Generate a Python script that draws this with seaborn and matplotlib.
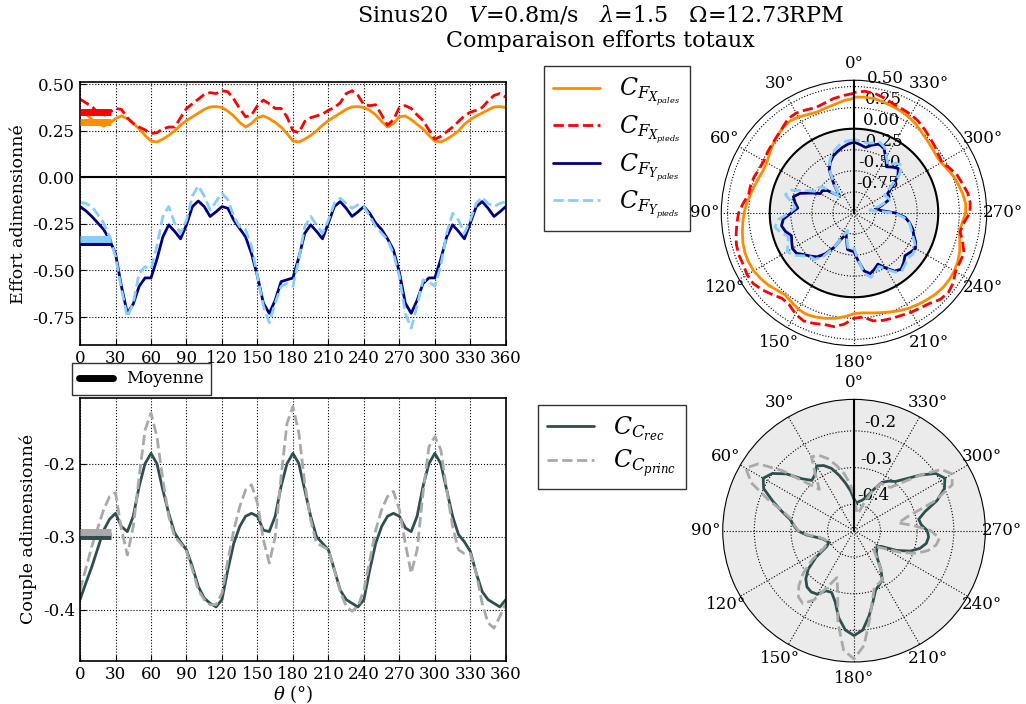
import numpy as np
import pandas as pd
import seaborn as sns
import matplotlib
matplotlib.use("Agg")
import matplotlib.pyplot as plt
from matplotlib.lines import Line2D
from matplotlib.ticker import FormatStrFormatter

# angles (deg), one value every 5 degrees
theta_deg = np.arange(0, 361, 5)

cfx_pales = [0.36, 0.34, 0.31, 0.29, 0.275, 0.29, 0.315, 0.33, 0.315, 0.29, 0.26, 0.225, 0.195,
             0.19, 0.205, 0.225, 0.25, 0.28, 0.305, 0.325, 0.345, 0.365, 0.378, 0.38, 0.375,
             0.355, 0.33, 0.295, 0.27, 0.29, 0.32, 0.33, 0.315, 0.295, 0.27, 0.235, 0.195,
             0.19, 0.205, 0.225, 0.25, 0.28, 0.305, 0.325, 0.345, 0.365, 0.378, 0.38, 0.375,
             0.36, 0.335, 0.30, 0.27, 0.29, 0.325, 0.33, 0.31, 0.285, 0.26, 0.225, 0.195,
             0.19, 0.205, 0.225, 0.25, 0.285, 0.31, 0.33, 0.345, 0.362, 0.378, 0.38, 0.375]
cfx_pieds = [0.42, 0.40, 0.38, 0.35, 0.33, 0.35, 0.37, 0.365, 0.32, 0.29, 0.27, 0.255, 0.235,
             0.24, 0.26, 0.27, 0.27, 0.32, 0.37, 0.395, 0.42, 0.445, 0.455, 0.45, 0.465,
             0.46, 0.42, 0.37, 0.325, 0.335, 0.385, 0.415, 0.395, 0.37, 0.37, 0.325, 0.25,
             0.24, 0.30, 0.32, 0.33, 0.34, 0.36, 0.375, 0.40, 0.45, 0.465, 0.44, 0.39,
             0.385, 0.39, 0.335, 0.28, 0.31, 0.375, 0.385, 0.37, 0.335, 0.305, 0.255, 0.205,
             0.22, 0.245, 0.27, 0.30, 0.33, 0.35, 0.36, 0.375, 0.41, 0.44, 0.45, 0.43]
cfy_pales = [-0.157, -0.18, -0.21, -0.245, -0.28, -0.335, -0.41, -0.585, -0.73, -0.68, -0.585,
             -0.54, -0.54, -0.44, -0.32, -0.255, -0.29, -0.33, -0.255, -0.157, -0.127, -0.157,
             -0.21, -0.185, -0.157, -0.166, -0.23, -0.275, -0.32, -0.41, -0.53, -0.675, -0.73,
             -0.66, -0.56, -0.55, -0.54, -0.43, -0.30, -0.255, -0.29, -0.33, -0.245, -0.157,
             -0.13, -0.166, -0.21, -0.185, -0.157, -0.193, -0.246, -0.28, -0.33, -0.39, -0.51,
             -0.675, -0.73, -0.66, -0.57, -0.54, -0.54, -0.44, -0.32, -0.255, -0.29, -0.33,
             -0.245, -0.157, -0.13, -0.166, -0.21, -0.185, -0.157]
cfy_pieds = [-0.135, -0.14, -0.157, -0.2, -0.246, -0.32, -0.425, -0.60, -0.75, -0.675, -0.515,
             -0.48, -0.49, -0.37, -0.21, -0.157, -0.246, -0.30, -0.23, -0.10, -0.046, -0.10,
             -0.175, -0.13, -0.086, -0.12, -0.21, -0.265, -0.28, -0.37, -0.53, -0.69, -0.78,
             -0.675, -0.585, -0.57, -0.585, -0.44, -0.265, -0.21, -0.255, -0.30, -0.23, -0.14,
             -0.112, -0.14, -0.166, -0.148, -0.157, -0.21, -0.265, -0.30, -0.335, -0.41, -0.53,
             -0.73, -0.81, -0.69, -0.55, -0.56, -0.585, -0.475, -0.30, -0.193, -0.23, -0.30,
             -0.23, -0.14, -0.107, -0.14, -0.157, -0.14, -0.13]

cc_rec = [-0.386, -0.363, -0.341, -0.316, -0.291, -0.276, -0.268, -0.286, -0.293, -0.272, -0.231,
          -0.20, -0.186, -0.20, -0.236, -0.268, -0.295, -0.307, -0.318, -0.341, -0.368, -0.384,
          -0.391, -0.396, -0.386, -0.345, -0.309, -0.286, -0.272, -0.268, -0.272, -0.291, -0.293,
          -0.272, -0.231, -0.20, -0.186, -0.20, -0.236, -0.272, -0.30, -0.309, -0.318, -0.345,
          -0.373, -0.386, -0.391, -0.396, -0.386, -0.345, -0.309, -0.286, -0.272, -0.268, -0.272,
          -0.288, -0.293, -0.272, -0.231, -0.20, -0.186, -0.20, -0.236, -0.272, -0.297, -0.307,
          -0.32, -0.35, -0.375, -0.386, -0.391, -0.396, -0.386]
cc_princ = [-0.373, -0.343, -0.313, -0.288, -0.263, -0.245, -0.24, -0.29, -0.325, -0.286, -0.218,
            -0.154, -0.131, -0.163, -0.222, -0.272, -0.30, -0.309, -0.32, -0.345, -0.373, -0.386,
            -0.393, -0.393, -0.377, -0.332, -0.291, -0.259, -0.236, -0.229, -0.254, -0.304, -0.336,
            -0.30, -0.218, -0.145, -0.122, -0.158, -0.227, -0.277, -0.309, -0.313, -0.318, -0.345,
            -0.375, -0.395, -0.402, -0.395, -0.373, -0.332, -0.291, -0.263, -0.245, -0.238, -0.263,
            -0.309, -0.35, -0.318, -0.24, -0.177, -0.163, -0.181, -0.236, -0.286, -0.318, -0.323,
            -0.323, -0.35, -0.391, -0.418, -0.425, -0.409, -0.391]

xticks = np.arange(0, 361, 30)
polar_labels = [f"{t}°" for t in range(0, 360, 30)]

efforts = [
    (r'$C_{F_{X_{pales}}}$', cfx_pales, 'darkorange', '-'),
    (r'$C_{F_{X_{pieds}}}$', cfx_pieds, 'red', '--'),
    (r'$C_{F_{Y_{pales}}}$', cfy_pales, 'navy', '-'),
    (r'$C_{F_{Y_{pieds}}}$', cfy_pieds, 'lightskyblue', '--'),
]
couples = [
    (r'$C_{C_{rec}}$', cc_rec, 'darkslategray', '-'),
    (r'$C_{C_{princ}}$', cc_princ, 'darkgray', '--'),
]

sns.set_style("ticks", {"text.color": "k", "axes.labelcolor": "k", "xtick.color": "k",
                        "ytick.color": "k", "axes.edgecolor": "k"})
plt.rcParams['font.family'] = ['DejaVu Serif']
plt.rcParams['mathtext.fontset'] = 'dejavuserif'
plt.rcParams['axes.unicode_minus'] = True

fig = plt.figure(figsize=(10.26, 7.04), dpi=100)


def draw_cartesian(ax, series, ylim):
    handles = []
    for label, values, color, ls in series:
        sns.lineplot(x=theta_deg, y=values, ax=ax, color=color, linestyle=ls, lw=2)
        handles.append(ax.lines[-1])
    # mean bars on the left
    for label, values, color, ls in series:
        ax.plot([0, 26], [np.mean(values)] * 2, color=color, lw=5,
                solid_capstyle='butt', zorder=5)
    ax.set_xlim(0, 360)
    ax.set_ylim(*ylim)
    ax.set_xticks(xticks)
    ax.grid(True, color='k', ls=':', lw=0.8)
    ax.tick_params(direction='in', labelsize=12, length=4, colors='k')
    for sp in ax.spines.values():
        sp.set_linewidth(1.2)
    return handles


def draw_polar(ax, series, rlim, rticks, fmt):
    th = np.linspace(0, 2 * np.pi, 400)
    ax.fill_between(th, rlim[0], min(0, rlim[1]), color='#ebebeb', zorder=0)
    if rlim[1] > 0:
        ax.plot(th, np.zeros_like(th), color='k', lw=1.5)
    for label, values, color, ls in series:
        sns.lineplot(x=np.deg2rad(theta_deg), y=values, ax=ax, color=color,
                     linestyle=ls, lw=2)
    ax.plot([0, 0], rlim, color='k', lw=1.5)
    ax.set_theta_zero_location('N')
    ax.set_thetagrids(range(0, 360, 30), polar_labels)
    ax.set_rlim(*rlim)
    ax.set_rticks(rticks)
    ax.yaxis.set_major_formatter(FormatStrFormatter(fmt))
    ax.set_rlabel_position(-6)
    ax.grid(True, color='k', ls=':', lw=0.8)
    ax.tick_params(labelsize=12, colors='k')
    ax.tick_params(axis='x', pad=1.5)
    ax.set_xlabel('')
    ax.set_ylabel('')


# forces
ax1 = fig.add_axes([0.078, 0.510, 0.415, 0.373])
h1 = draw_cartesian(ax1, efforts, (-0.9, 0.51))
ax1.axhline(0, color='k', lw=1.5)
ax1.set_yticks([-0.75, -0.5, -0.25, 0, 0.25, 0.5])
ax1.yaxis.set_major_formatter(FormatStrFormatter('%.2f'))
ax1.set_ylabel('Effort adimensionné', fontsize=12.5)

# torque
ax2 = fig.add_axes([0.078, 0.061, 0.415, 0.374])
h2 = draw_cartesian(ax2, couples, (-0.47, -0.11))
ax2.set_yticks([-0.4, -0.3, -0.2])
ax2.yaxis.set_major_formatter(FormatStrFormatter('%.1f'))
ax2.set_ylabel('Couple adimensionné', fontsize=12.5)
ax2.set_xlabel(r'$\theta$ (°)', fontsize=13, labelpad=0)

# polar views
ax3 = fig.add_axes([0.703, 0.509, 0.2587, 0.377], projection='polar')
draw_polar(ax3, efforts, (-1.0, 0.575), [-0.75, -0.5, -0.25, 0, 0.25, 0.5], '%.2f')
ax4 = fig.add_axes([0.7044, 0.0597, 0.256, 0.373], projection='polar')
draw_polar(ax4, couples, (-0.472, -0.114), [-0.4, -0.3, -0.2], '%.1f')

leg_kw = dict(frameon=True, fancybox=False, edgecolor='#333333', framealpha=1,
              fontsize=17, borderaxespad=0, labelspacing=0.2)
fig.legend(h1, [s[0] for s in efforts], loc='upper left',
           bbox_to_anchor=(0.530, 0.906), **leg_kw)
fig.legend(h2, [s[0] for s in couples], loc='upper left',
           bbox_to_anchor=(0.524, 0.425), **leg_kw)
fig.legend([Line2D([0], [0], color='k', lw=5)], ['Moyenne'], loc='lower left',
           bbox_to_anchor=(0.070, 0.439), frameon=True, fancybox=False,
           edgecolor='#333333', framealpha=1, fontsize=12, borderaxespad=0,
           borderpad=0.45)

fig.text(0.585, 0.995,
         r'Sinus20   $V$=0.8m/s   $\lambda$=1.5   $\Omega$=12.73RPM' + '\n'
         + 'Comparaison efforts totaux',
         ha='center', va='top', fontsize=16)

fig.savefig('out.png', dpi=100)
